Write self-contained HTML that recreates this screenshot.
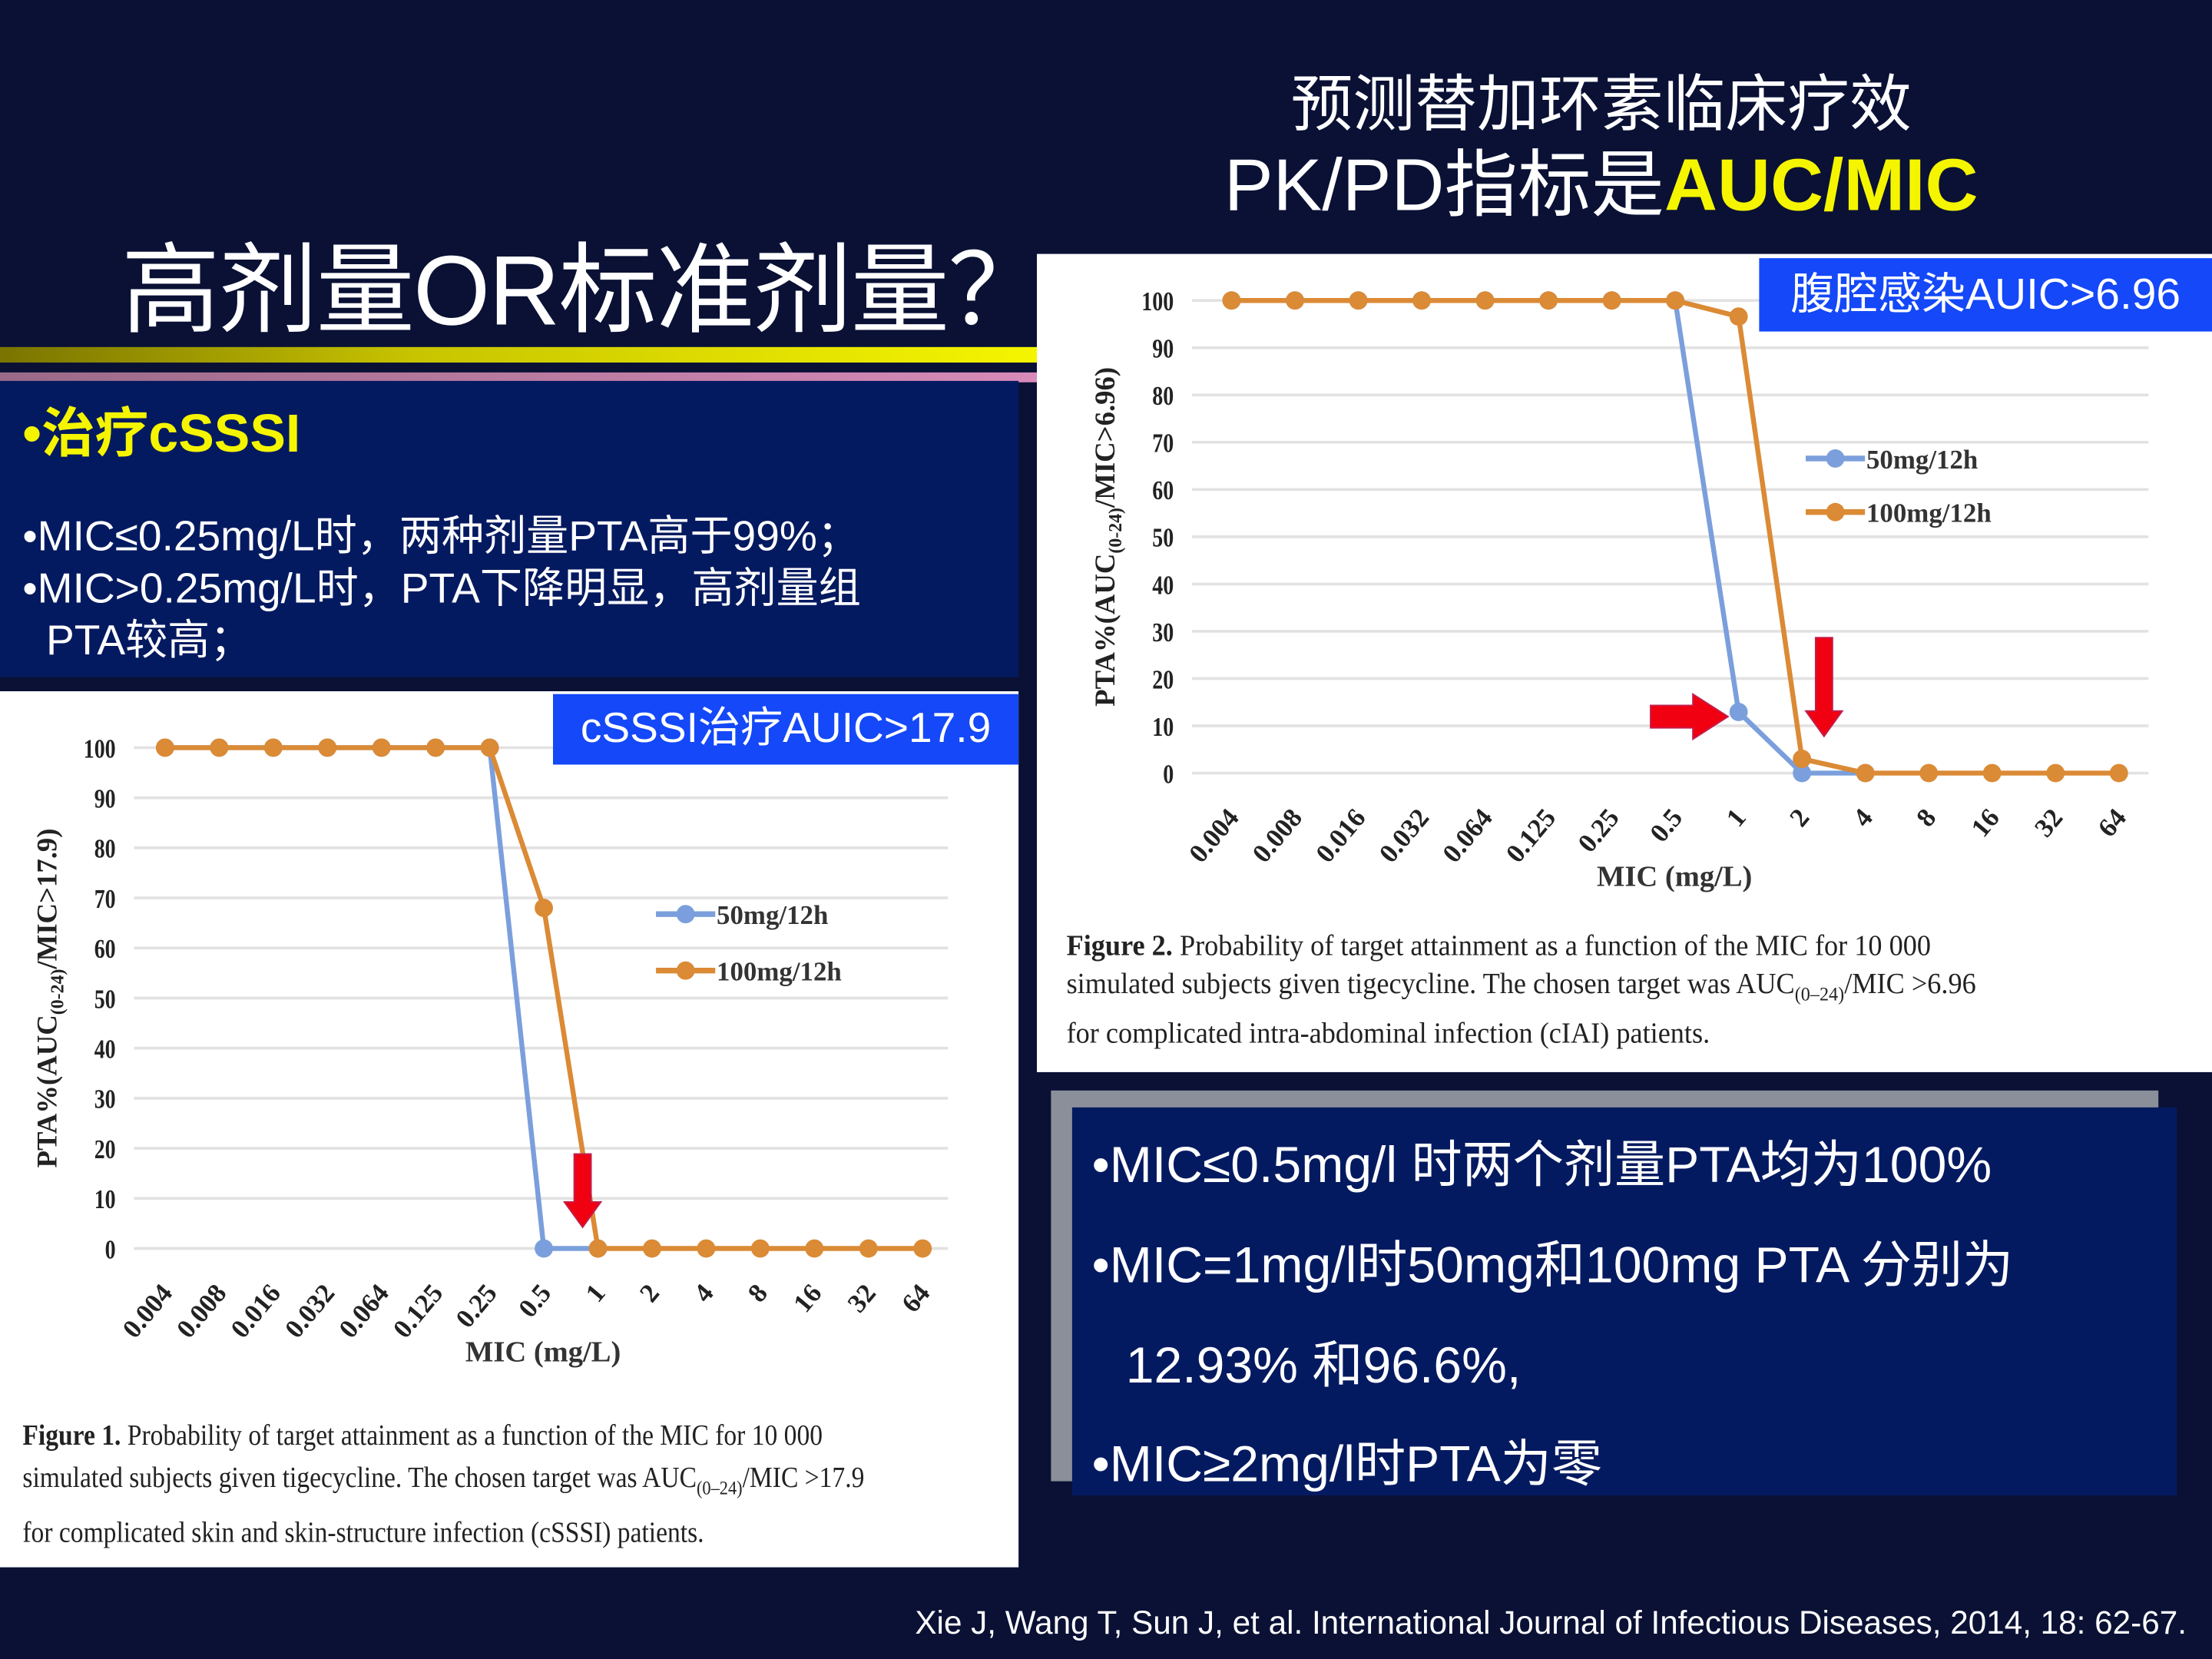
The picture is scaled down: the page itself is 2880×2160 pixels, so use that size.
<!DOCTYPE html>
<html><head><meta charset="utf-8">
<style>
html,body{margin:0;padding:0;width:2880px;height:2160px;overflow:hidden;background:#0a1135;}
#stage{position:absolute;left:0;top:0;width:1568px;height:1176px;transform:scale(1.83673);transform-origin:0 0;background:#0a1135;font-family:"Liberation Sans","Noto Sans CJK SC",sans-serif;}
.abs{position:absolute;}
.cap{font-family:"Liberation Serif","Noto Serif CJK SC",serif;color:#222;white-space:nowrap;}
</style></head>
<body>
<div id="stage">
  <div class="abs" style="left:86px;top:150px;font-size:70px;color:#fff;white-space:nowrap;letter-spacing:-1px;">高剂量OR标准剂量？</div>
  <div class="abs" style="left:0;top:246px;width:735px;height:11px;background:linear-gradient(90deg,#7a7400,#c8c400 40%,#f5f500);"></div>
  <div class="abs" style="left:0;top:264px;width:735px;height:7px;background:linear-gradient(90deg,#9a6a88,#d88ab8);"></div>

  <div class="abs" style="left:735px;top:48px;width:800px;text-align:center;color:#fff;white-space:nowrap;">
    <div style="font-size:44px;line-height:54px;">预测替加环素临床疗效</div>
    <div style="font-size:52px;line-height:60px;">PK/PD指标是<b style="color:#f5f500;">AUC/MIC</b></div>
  </div>

  <div class="abs" style="left:0;top:270px;width:722px;height:210px;background:#041a60;color:#fff;">
    <div style="position:absolute;left:16px;top:6px;font-size:38px;font-weight:bold;color:#f5f500;white-space:nowrap;">•治疗cSSSI</div>
    <div style="position:absolute;left:16px;top:92px;font-size:30px;line-height:37px;white-space:nowrap;">•MIC≤0.25mg/L时，两种剂量PTA高于99%；<br>•MIC>0.25mg/L时，PTA下降明显，高剂量组<br>&nbsp;&nbsp;PTA较高；</div>
  </div>

  <div class="abs" style="left:0;top:490px;width:722px;height:621px;background:#fff;"></div>
  <div class="abs" style="left:735px;top:180px;width:833px;height:580px;background:#fff;"></div>

  <svg id="charts" class="abs" style="left:0;top:0;" width="1568" height="1176"></svg>

  <div class="abs" style="left:392px;top:492px;width:330px;height:50px;background:#1448f8;color:#fff;font-size:30px;line-height:50px;text-align:center;white-space:nowrap;">cSSSI治疗AUIC&gt;17.9</div>
  <div class="abs" style="left:1247px;top:183px;width:321px;height:52px;background:#1448f8;color:#fff;font-size:31px;line-height:52px;text-align:center;white-space:nowrap;">腹腔感染AUIC&gt;6.96</div>

  <div class="abs cap" style="left:16px;top:1002px;font-size:21px;line-height:30px;transform:scaleX(0.87);transform-origin:0 0;">
    <b>Figure 1.</b> Probability of target attainment as a function of the MIC for 10 000<br>simulated subjects given tigecycline. The chosen target was AUC<sub style="font-size:14px">(0–24)</sub>/MIC &gt;17.9<br>for complicated skin and skin-structure infection (cSSSI) patients.</div>
  <div class="abs cap" style="left:756px;top:657px;font-size:21px;line-height:27px;transform:scaleX(0.94);transform-origin:0 0;">
    <b>Figure 2.</b> Probability of target attainment as a function of the MIC for 10 000<br>simulated subjects given tigecycline. The chosen target was AUC<sub style="font-size:14px">(0–24)</sub>/MIC &gt;6.96<br>for complicated intra-abdominal infection (cIAI) patients.</div>

  <div class="abs" style="left:745px;top:773px;width:785px;height:277px;background:#8a8f9a;"></div>
  <div class="abs" style="left:760px;top:785px;width:783px;height:275px;background:#041a60;color:#fff;font-size:36px;white-space:nowrap;">
    <div style="position:absolute;left:14px;top:12px;">•MIC≤0.5mg/l 时两个剂量PTA均为100%</div>
    <div style="position:absolute;left:14px;top:83px;">•MIC=1mg/l时50mg和100mg PTA 分别为</div>
    <div style="position:absolute;left:38px;top:154px;">12.93% 和96.6%,</div>
    <div style="position:absolute;left:14px;top:224px;">•MIC≥2mg/l时PTA为零</div>
  </div>

  <div class="abs" style="right:18px;top:1137px;color:#fff;font-size:23px;white-space:nowrap;">Xie J, Wang T, Sun J, et al. International Journal of Infectious Diseases, 2014, 18: 62-67.</div>
</div>
<script>
const categories = ["0.004","0.008","0.016","0.032","0.064","0.125","0.25","0.5","1","2","4","8","16","32","64"];
const yTicks = [0,10,20,30,40,50,60,70,80,90,100];
const c1Series50 = [100,100,100,100,100,100,100,0,0,null,null,null,null,null,null];
const c1Series100 = [100,100,100,100,100,100,100,68,0,0,0,0,0,0,0];
const c2Series50 = [100,100,100,100,100,100,100,100,12.93,0,0,null,null,null,null];
const c2Series100 = [100,100,100,100,100,100,100,100,96.6,3,0,0,0,0,0];
const seriesNames = ["50mg/12h","100mg/12h"];

const NS = "http://www.w3.org/2000/svg";
const svg = document.getElementById('charts');
function mk(tag, attrs, parent){const e=document.createElementNS(NS,tag);for(const k in attrs)e.setAttribute(k,attrs[k]);(parent||svg).appendChild(e);return e;}

function drawChart(cfg){
  const g = mk('g',{});
  
  
  const xs = i => cfg.x0 + i*(cfg.x1-cfg.x0)/(categories.length-1);
  const ys = v => cfg.y0 + (100-v)/100*(cfg.y1-cfg.y0);
  yTicks.forEach(t=>{
    const l = mk('line',{x1:cfg.gx0,x2:cfg.gx1,y1:ys(t),y2:ys(t),stroke:'#e2e2e2','stroke-width':2},g);
    
    
    const tx = mk('text',{x:cfg.gx0-13,y:ys(t)+7,'text-anchor':'end','font-size':19,'font-weight':'bold','font-family':'Liberation Serif, serif',fill:'#222',transform:`translate(${cfg.gx0-13},${ys(t)}) scale(0.8,1) translate(${-(cfg.gx0-13)},${-ys(t)})`},g);
    tx.textContent = t;
    
    
  });
  categories.forEach((c,i)=>{
    const x = xs(i)+6, y = cfg.y1+32;
    const tx = mk('text',{x:x,y:y,'text-anchor':'end','font-size':19,'font-weight':'bold','font-family':'Liberation Serif, serif',fill:'#222',transform:`rotate(-50 ${x} ${y})`},g);
    tx.textContent = c;
    
    
  });
  const xt = mk('text',{x:cfg.xTitleX,y:cfg.y1+80,'text-anchor':'middle','font-size':21,'font-weight':'bold','font-family':'Liberation Serif, serif',fill:'#333'},g);
  xt.textContent = 'MIC (mg/L)';
  
  
  const ycx = cfg.gx0-55, ycy = (cfg.y0+cfg.y1)/2;
  const yt = mk('text',{x:ycx,y:ycy,'text-anchor':'middle','font-size':20,'font-weight':'bold','font-family':'Liberation Serif, serif',fill:'#222',transform:`rotate(-90 ${ycx} ${ycy})`},g);
  yt.innerHTML = 'PTA%(AUC<tspan font-size="13" dy="5">(0-24)</tspan><tspan dy="-5">/MIC&gt;'+cfg.thr+')</tspan>';
  
  
  [[cfg.s50,'#7b9fdc'],[cfg.s100,'#db8a35']].forEach(([s,col],si)=>{
    let pts=[];
    s.forEach((v,i)=>{if(v!==null)pts.push([xs(i),ys(v)]);});
    const p = mk('polyline',{points:pts.map(p=>p.join(',')).join(' '),fill:'none',stroke:col,'stroke-width':3.5},g);
    
    
    pts.forEach(pt=>{
      const c = mk('circle',{cx:pt[0],cy:pt[1],r:6.5,fill:col},g);
      
      
    });
  });
  seriesNames.forEach((n,si)=>{
    const col = si? '#db8a35':'#7b9fdc';
    const ly = cfg.legY + si*cfg.legGap;
    const lg = mk('g',{},g);
    
    
    mk('line',{x1:cfg.legX,x2:cfg.legX+42,y1:ly,y2:ly,stroke:col,'stroke-width':4},lg);
    mk('circle',{cx:cfg.legX+21,cy:ly,r:6.5,fill:col},lg);
    const t = mk('text',{x:cfg.legX+43,y:ly+7,'font-size':19,'font-weight':'bold','font-family':'Liberation Serif, serif',fill:'#333'},lg);
    t.textContent = n;
  });
}
drawChart({id:'chart1',x0:117,x1:654,y0:530,y1:885,gx0:95,gx1:672,s50:c1Series50,s100:c1Series100,thr:'17.9',xTitleX:385,legX:465,legY:648,legGap:40});
drawChart({id:'chart2',x0:873,x1:1502,y0:213,y1:548,gx0:845,gx1:1523,s50:c2Series50,s100:c2Series100,thr:'6.96',xTitleX:1187,legX:1280,legY:325,legGap:38});

function arrowDown(x,yTop,yTip,name){
  const p = mk('polygon',{points:`${x-6},${yTop} ${x+6},${yTop} ${x+6},${yTip-18} ${x+13},${yTip-18} ${x},${yTip} ${x-13},${yTip-18} ${x-6},${yTip-18}`,fill:'#f00010',stroke:'#c02050','stroke-width':1});
  
  
}
arrowDown(413,818,870,'red-arrow-chart1');
arrowDown(1293,452,522,'red-arrow-down-chart2');
const ar = mk('polygon',{points:'1170,500 1200,500 1200,492 1225,508 1200,524 1200,516 1170,516',fill:'#f00010',stroke:'#c02050','stroke-width':1});


</script>
</body></html>
